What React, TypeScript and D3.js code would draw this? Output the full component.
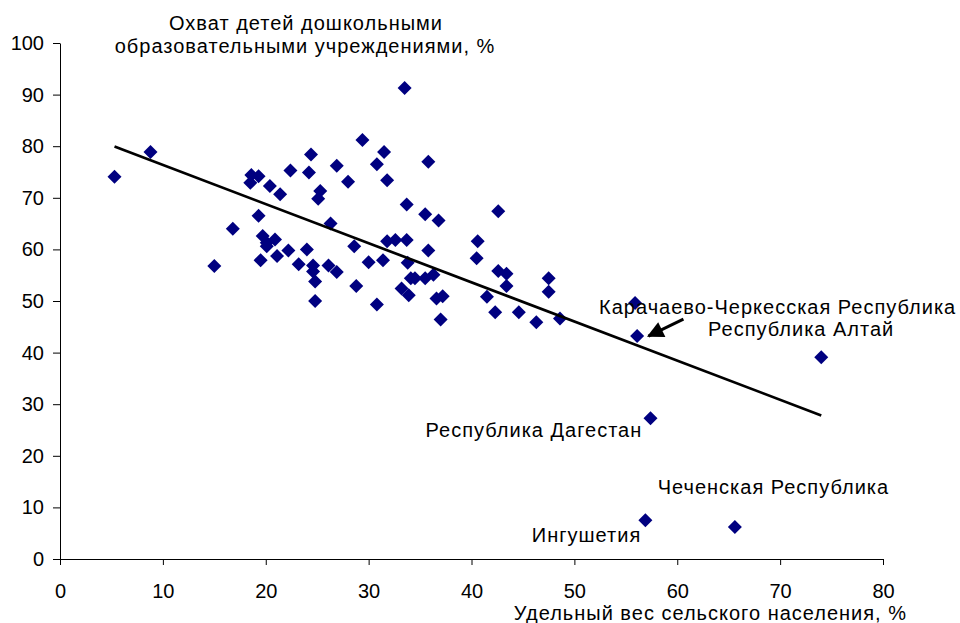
import { useEffect, useRef } from 'react'
import * as d3 from 'd3'

// rural population share, %
const ruralShare = [
  5.3, 8.8, 15.0, 16.8, 18.6, 19.3, 18.5, 20.4, 21.4, 19.3,
  19.7, 20.1, 20.9, 20.1, 19.5, 21.1, 22.2, 22.4, 23.2, 24.0,
  24.4, 24.2, 24.6, 24.6, 24.8, 24.8, 25.3, 25.1, 26.3, 26.1,
  26.9, 26.9, 28.0, 28.6, 28.8, 29.4, 30.0, 30.8, 30.8, 31.5,
  31.4, 31.8, 31.8, 32.6, 33.5, 33.2, 33.7, 33.7, 33.8, 33.9,
  34.1, 34.5, 35.5, 35.5, 35.8, 35.8, 36.3, 36.6, 36.8, 37.0,
  37.2, 40.5, 40.6, 41.5, 42.3, 42.6, 42.6, 43.4, 43.4, 44.6,
  46.3, 47.5, 47.5, 48.6, 55.9, 56.1, 57.4, 74.0, 56.9, 65.6
]

// preschool coverage, %
const coverage = [
  74.1, 78.9, 56.8, 64.0, 74.4, 74.2, 72.9, 72.3, 70.7, 66.5,
  62.6, 61.3, 61.9, 60.6, 57.9, 58.7, 59.8, 75.3, 57.1, 60.0,
  78.4, 74.9, 56.9, 55.7, 53.8, 50.0, 71.3, 69.8, 65.0, 56.9,
  55.6, 76.2, 73.1, 60.6, 52.9, 81.2, 57.5, 76.5, 49.3, 78.9,
  57.9, 73.4, 61.6, 61.8, 91.3, 52.4, 61.8, 68.7, 57.4, 51.1,
  54.4, 54.4, 66.8, 54.4, 59.8, 77.0, 55.1, 50.5, 65.6, 46.4,
  50.9, 58.3, 61.6, 50.8, 47.8, 67.4, 55.8, 55.3, 52.9, 47.8,
  45.9, 54.4, 51.8, 46.6, 49.6, 43.2, 27.3, 39.1, 7.5, 6.2
]

// linear trend y = a + b*x
const trendIntercept = 83.96
const trendSlope = -0.7586

const xTicks = [0, 10, 20, 30, 40, 50, 60, 70, 80]
const yTicks = [0, 10, 20, 30, 40, 50, 60, 70, 80, 90, 100]

const labelNames = [
  'Карачаево-Черкесская Республика',
  'Республика Алтай',
  'Республика Дагестан',
  'Чеченская Республика',
  'Ингушетия'
]
const labelX = [52.4, 63.0, 56.6, 58.1, 56.5]
const labelY = [48.8, 44.6, 25.0, 14.0, 4.7]
const labelAnchor = ['start', 'start', 'end', 'start', 'end']

// arrow from label to point (data units)
const arrowFrom = [60.6, 46.5]
const arrowTo = [57.2, 43.2]

const FONT = '"Liberation Sans", Arial, sans-serif'

export default function App() {
  const svgRef = useRef<SVGSVGElement>(null)

  useEffect(() => {
    if (!svgRef.current) return
    const svg = d3.select(svgRef.current)
    svg.selectAll('*').remove()

    const x = d3.scaleLinear().domain([0, 80]).range([60, 883])
    const y = d3.scaleLinear().domain([0, 100]).range([559, 43])

    const defs = svg.append('defs')
    defs.append('marker')
      .attr('id', 'arrowHead')
      .attr('viewBox', '0 0 10 10')
      .attr('refX', 9)
      .attr('refY', 5)
      .attr('markerWidth', 6.5)
      .attr('markerHeight', 5.5)
      .attr('markerUnits', 'strokeWidth')
      .attr('orient', 'auto')
      .append('path')
      .attr('d', 'M0,0 L10,5 L0,10 Z')
      .attr('fill', '#000')

    // axes
    const yAxis = svg.append('g')
      .attr('transform', `translate(${x(0)},0)`)
      .call(d3.axisLeft(y).tickValues(yTicks).tickSize(7).tickPadding(9).tickSizeOuter(0))
    yAxis.select('.domain').attr('stroke', '#000')
    yAxis.selectAll('line').attr('stroke', '#000')
    yAxis.selectAll('text')
      .attr('font-family', FONT)
      .attr('font-size', '20px')
      .attr('fill', '#000')

    const xAxis = svg.append('g')
      .attr('transform', `translate(0,${y(0)})`)
      .call(d3.axisBottom(x).tickValues(xTicks).tickSize(6).tickPadding(19).tickSizeOuter(0))
    xAxis.select('.domain').attr('stroke', '#000')
    xAxis.selectAll('line').attr('stroke', '#000')
    xAxis.selectAll('text')
      .attr('font-family', FONT)
      .attr('font-size', '20px')
      .attr('fill', '#000')

    // axis titles
    const yTitle = svg.append('text')
      .attr('font-family', FONT)
      .attr('font-size', '20px')
      .attr('letter-spacing', '1px')
      .attr('text-anchor', 'middle')
    yTitle.append('tspan').attr('x', 306).attr('y', 30).text('Охват детей дошкольными')
    yTitle.append('tspan').attr('x', 305).attr('y', 53).text('образовательными учреждениями, %')

    svg.append('text')
      .attr('x', 907)
      .attr('y', 620)
      .attr('text-anchor', 'end')
      .attr('font-family', FONT)
      .attr('font-size', '20px')
      .attr('letter-spacing', '1px')
      .text('Удельный вес сельского населения, %')

    // points
    const pts = ruralShare.map((v, i) => [v, coverage[i]] as [number, number])
    svg.append('g')
      .selectAll('path')
      .data(pts)
      .join('path')
      .attr('transform', d => `translate(${x(d[0])},${y(d[1])})`)
      .attr('d', 'M0,-7 L7,0 L0,7 L-7,0 Z')
      .attr('fill', '#000080')

    // trend line
    const [xMin, xMax] = d3.extent(ruralShare) as [number, number]
    const line = d3.line<number>()
      .x(d => x(d))
      .y(d => y(trendIntercept + trendSlope * d))
    svg.append('path')
      .attr('d', line([xMin, xMax]))
      .attr('stroke', '#000')
      .attr('stroke-width', 2.7)
      .attr('fill', 'none')

    // labels
    svg.append('g')
      .selectAll('text')
      .data(labelNames)
      .join('text')
      .attr('x', (_, i) => x(labelX[i]))
      .attr('y', (_, i) => y(labelY[i]))
      .attr('dy', '0.35em')
      .attr('text-anchor', (_, i) => labelAnchor[i])
      .attr('font-family', FONT)
      .attr('font-size', '20px')
      .attr('letter-spacing', '1px')
      .attr('fill', '#000')
      .text(d => d)

    // arrow
    svg.append('line')
      .attr('x1', x(arrowFrom[0]))
      .attr('y1', y(arrowFrom[1]))
      .attr('x2', x(arrowTo[0]))
      .attr('y2', y(arrowTo[1]))
      .attr('stroke', '#000')
      .attr('stroke-width', 3)
      .attr('marker-end', 'url(#arrowHead)')
  }, [])

  return (
    <div style={{ position: 'fixed', left: 0, top: 0, background: '#fff' }}>
      <svg ref={svgRef} width={960} height={623} style={{ display: 'block' }} />
    </div>
  )
}
